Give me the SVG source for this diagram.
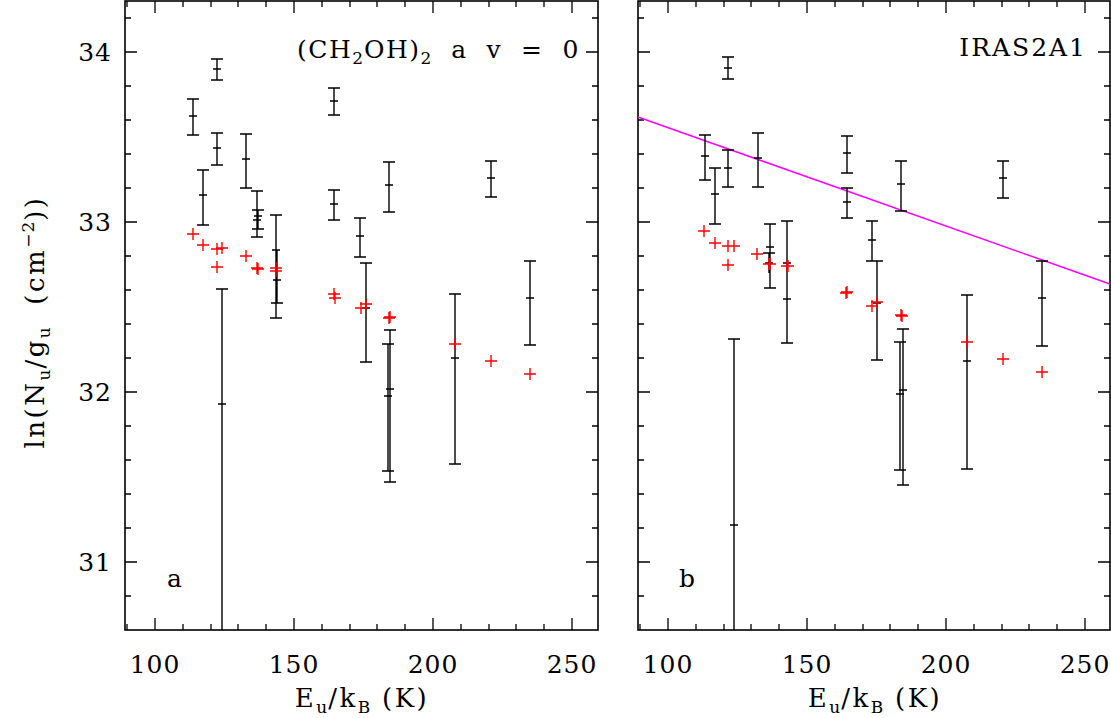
<svg xmlns="http://www.w3.org/2000/svg" width="1111" height="718" viewBox="0 0 1111 718">
<style>
.fr{fill:none;stroke:#000;stroke-width:1.6}
.tk{fill:none;stroke:#000;stroke-width:1.3}
.eb{fill:none;stroke:#000;stroke-width:1.4}
.rd{fill:none;stroke:#f00;stroke-width:1.4}
.ln{fill:none;stroke:#f0f;stroke-width:1.5}
text{font-family:"DejaVu Serif","Liberation Serif",serif;font-size:25px;fill:#000;letter-spacing:1px}
.lab{font-size:26px;letter-spacing:2.5px}
.sb{font-size:17px;letter-spacing:1px}
</style>
<rect width="1111" height="718" fill="#fff"/>
<g id="panel-a">
<rect class="fr" x="125" y="1" width="473" height="629"/>
<path class="tk" d="M155 630v-12M294 630v-12M433 630v-12M572 630v-12M127 630v-6M183 630v-6M211 630v-6M238 630v-6M266 630v-6M322 630v-6M350 630v-6M377 630v-6M405 630v-6M461 630v-6M489 630v-6M516 630v-6M544 630v-6
M155 1v12M294 1v12M433 1v12M572 1v12M127 1v6M183 1v6M211 1v6M238 1v6M266 1v6M322 1v6M350 1v6M377 1v6M405 1v6M461 1v6M489 1v6M516 1v6M544 1v6
M125 52h12M125 222h12M125 392h12M125 562h12M125 18h6M125 86h6M125 120h6M125 154h6M125 188h6M125 256h6M125 290h6M125 324h6M125 358h6M125 426h6M125 460h6M125 494h6M125 528h6M125 596h6
M598 52h-12M598 222h-12M598 392h-12M598 562h-12M598 18h-6M598 86h-6M598 120h-6M598 154h-6M598 188h-6M598 256h-6M598 290h-6M598 324h-6M598 358h-6M598 426h-6M598 460h-6M598 494h-6M598 528h-6M598 596h-6"/>
<path class="eb" d="M193 99V135M187 99h12M187 135h12M189 116h8
M217 59V80M211 59h12M211 80h12M213 69h8
M217 133V165M211 133h12M211 165h12M213 148h8
M203 170V225M197 170h12M197 225h12M199 195h8
M246 134V188M240 134h12M240 188h12M242 159h8
M257 191V237M251 191h12M251 237h12M253 220h8
M258 210V229M252 210h12M252 229h12M254 216h8
M276 215V318M270 215h12M270 318h12M272 250h8
M277 250V303M271 303h12M273 280h8
M334 88V115M328 88h12M328 115h12M330 101h8
M334 190V220M328 190h12M328 220h12M330 204h8
M360 218V257M354 218h12M354 257h12M356 236h8
M389 162V212M383 162h12M383 212h12M385 185h8
M491 161V197M485 161h12M485 197h12M487 178h8
M222 289V630M216 289h12M218 404h8
M366 263V362M360 263h12M360 362h12M362 308h8
M390 330V482M384 330h12M384 482h12M386 389h8
M388 344V471M382 344h12M382 471h12M384 396h8
M455 294V464M449 294h12M449 464h12M451 358h8
M530 261V345M524 261h12M524 345h12M526 298h8"/>
<path class="rd" d="M187 234h12M193 228v12M197 245h12M203 239v12M211 249h12M217 243v12M216 248h12M222 242v12M211 267h12M217 261v12M240 256h12M246 250v12M251 268h12M257 262v12M252 269h12M258 263v12M270 268h12M276 262v12M270 271h12M276 265v12M328 294h12M334 288v12M329 298h12M335 292v12M355 308h12M361 302v12M360 304h12M366 298v12M383 318h12M389 312v12M384 317h12M390 311v12M449 344h12M455 338v12M485 361h12M491 355v12M524 374h12M530 368v12"/>
<text x="297" y="58" style="letter-spacing:1.5px">(CH<tspan class="sb" dy="6">2</tspan><tspan dy="-6">OH)</tspan><tspan class="sb" dy="6">2</tspan><tspan dy="-6" xml:space="preserve">  a  v  =  0</tspan></text>
<text x="167" y="587">a</text>
</g>
<g id="panel-b">
<rect class="fr" x="638" y="1" width="472" height="629"/>
<path class="tk" d="M668 630v-12M807 630v-12M946 630v-12M1085 630v-12M640 630v-6M696 630v-6M724 630v-6M751 630v-6M779 630v-6M835 630v-6M863 630v-6M890 630v-6M918 630v-6M974 630v-6M1002 630v-6M1029 630v-6M1057 630v-6
M668 1v12M807 1v12M946 1v12M1085 1v12M640 1v6M696 1v6M724 1v6M751 1v6M779 1v6M835 1v6M863 1v6M890 1v6M918 1v6M974 1v6M1002 1v6M1029 1v6M1057 1v6
M638 52h12M638 222h12M638 392h12M638 562h12M638 18h6M638 86h6M638 120h6M638 154h6M638 188h6M638 256h6M638 290h6M638 324h6M638 358h6M638 426h6M638 460h6M638 494h6M638 528h6M638 596h6
M1110 52h-12M1110 222h-12M1110 392h-12M1110 562h-12M1110 18h-6M1110 86h-6M1110 120h-6M1110 154h-6M1110 188h-6M1110 256h-6M1110 290h-6M1110 324h-6M1110 358h-6M1110 426h-6M1110 460h-6M1110 494h-6M1110 528h-6M1110 596h-6"/>
<path class="ln" d="M638 117L1110 284"/>
<path class="eb" d="M705 135V180M699 135h12M699 180h12M701 156h8
M728 57V79M722 57h12M722 79h12M724 68h8
M728 150V187M722 150h12M722 187h12M724 168h8
M715 168V224M709 168h12M709 224h12M711 194h8
M758 133V187M752 133h12M752 187h12M754 158h8
M770 224V288M764 224h12M764 288h12M766 247h8
M769 253V273M763 253h12M765 263h8
M787 221V343M781 221h12M781 343h12M783 263h8
M787 299V317M783 299h8
M847 136V173M841 136h12M841 173h12M843 153h8
M847 188V218M841 188h12M841 218h12M843 202h8
M872 221V261M866 221h12M866 261h12M868 240h8
M901 161V211M895 161h12M895 211h12M897 184h8
M1003 161V198M997 161h12M997 198h12M999 178h8
M734 339V630M728 339h12M730 525h8
M877 261V360M871 261h12M871 360h12M873 303h8
M903 329V485M897 329h12M897 485h12M899 390h8
M900 342V470M894 342h12M894 470h12M896 394h8
M967 295V469M961 295h12M961 469h12M963 361h8
M1042 261V346M1036 261h12M1036 346h12M1038 298h8"/>
<path class="rd" d="M698 231h12M704 225v12M709 243h12M715 237v12M722 246h12M728 240v12M728 246h12M734 240v12M722 265h12M728 259v12M751 254h12M757 248v12M763 264h12M769 258v12M764 264h12M770 258v12M781 266h12M787 260v12M782 266h12M788 260v12M840 293h12M846 287v12M841 292h12M847 286v12M866 306h12M872 300v12M871 302h12M877 296v12M895 315h12M901 309v12M896 316h12M902 310v12M961 342h12M967 336v12M997 359h12M1003 353v12M1036 372h12M1042 366v12"/>
<text x="1087" y="56" text-anchor="end" style="letter-spacing:2px">IRAS2A1</text>
<text x="679" y="587">b</text>
</g>
<g id="axes-labels">
<text x="112" y="61" text-anchor="end">34</text>
<text x="112" y="231" text-anchor="end">33</text>
<text x="112" y="401" text-anchor="end">32</text>
<text x="112" y="571" text-anchor="end">31</text>
<text x="155" y="673" text-anchor="middle">100</text>
<text x="294" y="673" text-anchor="middle">150</text>
<text x="433" y="673" text-anchor="middle">200</text>
<text x="572" y="673" text-anchor="middle">250</text>
<text x="668" y="673" text-anchor="middle">100</text>
<text x="807" y="673" text-anchor="middle">150</text>
<text x="946" y="673" text-anchor="middle">200</text>
<text x="1085" y="673" text-anchor="middle">250</text>
<text class="lab" x="362" y="707" text-anchor="middle">E<tspan class="sb" dy="6">u</tspan><tspan dy="-6">/k</tspan><tspan class="sb" dy="6">B</tspan><tspan dy="-6" xml:space="preserve"> (K)</tspan></text>
<text class="lab" x="875" y="707" text-anchor="middle">E<tspan class="sb" dy="6">u</tspan><tspan dy="-6">/k</tspan><tspan class="sb" dy="6">B</tspan><tspan dy="-6" xml:space="preserve"> (K)</tspan></text>
<text class="lab" transform="translate(44 322) rotate(-90)" text-anchor="middle">ln(N<tspan class="sb" dy="6">u</tspan><tspan dy="-6">/g</tspan><tspan class="sb" dy="6">u</tspan><tspan dy="-6" xml:space="preserve">  (cm</tspan><tspan class="sb" dy="-10">−2</tspan><tspan dy="10">))</tspan></text>
</g>
</svg>
